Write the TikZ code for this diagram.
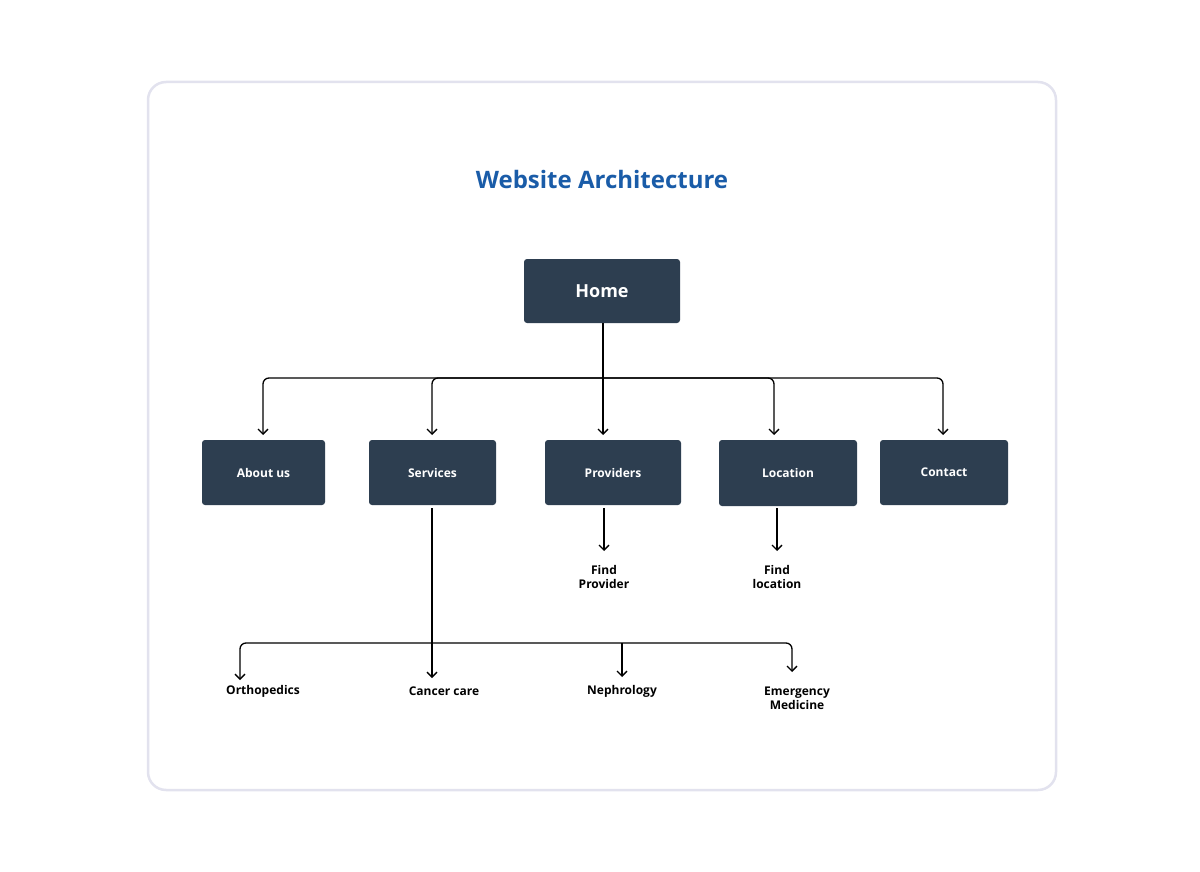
\documentclass[tikz,border=0pt]{standalone}
\usepackage{fontspec}
\setmainfont{Open Sans}
\usetikzlibrary{arrows.meta}
\definecolor{boxc}{HTML}{2D3E50}
\definecolor{titc}{HTML}{1A5CA8}
\definecolor{frm}{HTML}{E2E2EE}
\begin{document}
\begin{tikzpicture}[x=1pt,y=-1pt,
 box/.style={fill=boxc,rounded corners=3pt,text=white,font=\fontsize{12}{14}\selectfont\bfseries,inner sep=0},
 lbl/.style={font=\fontsize{12}{14}\selectfont\bfseries,align=center,inner sep=0},
 ln/.style={line width=1.3pt,rounded corners=6pt},
 ar/.style={ln,-{Straight Barb[length=5pt,width=10pt]}}]
\useasboundingbox (0,0) rectangle (1200,872);
\draw[frm,line width=2.5pt,fill=white,rounded corners=18pt] (148,82) rectangle (1056,790);
\node[font=\fontsize{24}{28}\selectfont\bfseries,text=titc] (title) at (602,180) {Website Architecture};
\node[box,minimum width=156,minimum height=64,font=\fontsize{18}{20}\selectfont\bfseries] (home) at (602,291) {Home};
\node[box,minimum width=123,minimum height=65] (about) at (263.5,472.5) {About us};
\node[box,minimum width=127,minimum height=65] (serv) at (432.5,472.5) {Services};
\node[box,minimum width=136,minimum height=65] (prov) at (613,472.5) {Providers};
\node[box,minimum width=138,minimum height=66] (loc) at (788,473) {Location};
\node[box,minimum width=128,minimum height=65] (cont) at (944,472.5) {Contact};
\coordinate (hb) at (603,323);
\coordinate (hj) at (603,378);
\draw[ln] (hb) -- (hj);
\draw[ar] (hj) -| (263,435);
\draw[ar] (hj) -| (432,435);
\draw[ar] (hj) -- (603,435);
\draw[ar] (hj) -| (774,435);
\draw[ar] (hj) -| (943,435);
\node[lbl] (fp) at (604,577) {Find\\Provider};
\node[lbl] (fl) at (777,577) {Find\\location};
\draw[ar] (604,508) -- (604,551);
\draw[ar] (777,508) -- (777,551);
\coordinate (sj) at (432,643);
\draw[ln] (432,508) -- (sj);
\node[lbl] (orth) at (263,691) {Orthopedics};
\node[lbl] (canc) at (444,691) {Cancer care};
\node[lbl] (neph) at (622,691) {Nephrology};
\node[lbl] (emer) at (797,698) {Emergency\\Medicine};
\draw[ar] (sj) -| (240,680);
\draw[ar] (sj) -- (432,678);
\draw[ar] (622,643) -- (622,677);
\draw[ar] (sj) -| (792,672);
\end{tikzpicture}
\end{document}
